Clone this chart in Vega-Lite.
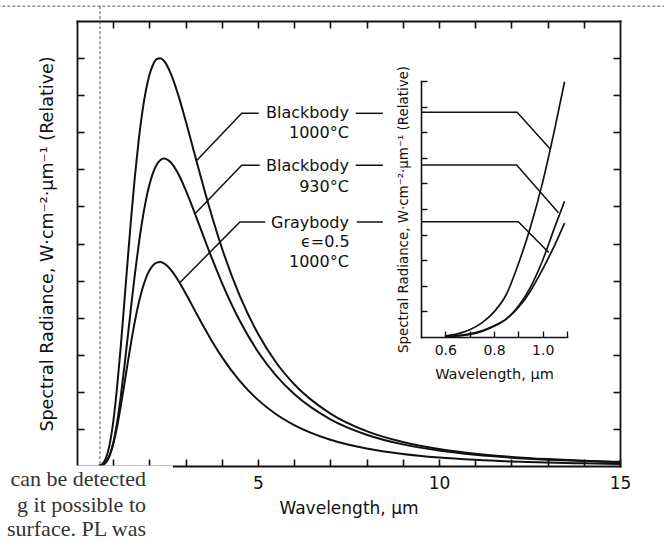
{
  "$schema": "https://vega.github.io/schema/vega-lite/v6.json",
  "width": 543,
  "height": 445,
  "autosize": {"type": "none"},
  "padding": {"left": 77, "top": 21, "right": 44, "bottom": 75},
  "background": "white",
  "config": {
    "view": {"stroke": null},
    "font": "DejaVu Sans",
    "axis": {
      "grid": false,
      "domainColor": "#111",
      "tickColor": "#111",
      "labelColor": "#111",
      "titleColor": "#111",
      "domainWidth": 1.8,
      "tickWidth": 1.6,
      "domainCap": "square",
      "titleFontWeight": "normal",
      "labelFlush": false,
      "labelOverlap": false,
      "labelFont": "DejaVu Sans",
      "titleFont": "DejaVu Sans"
    }
  },
  "datasets": {
    "main": [
      {"wl": 0.6, "bb1000": 0.008, "bb930": 0.003, "gray": 0.004},
      {"wl": 0.7, "bb1000": 0.056, "bb930": 0.022, "gray": 0.028},
      {"wl": 0.8, "bb1000": 0.214, "bb930": 0.094, "gray": 0.107},
      {"wl": 0.9, "bb1000": 0.570, "bb930": 0.275, "gray": 0.285},
      {"wl": 1.0, "bb1000": 1.182, "bb930": 0.613, "gray": 0.591},
      {"wl": 1.1, "bb1000": 2.050, "bb930": 1.128, "gray": 1.025},
      {"wl": 1.2, "bb1000": 3.124, "bb930": 1.806, "gray": 1.562},
      {"wl": 1.3, "bb1000": 4.320, "bb930": 2.605, "gray": 2.160},
      {"wl": 1.4, "bb1000": 5.549, "bb930": 3.470, "gray": 2.775},
      {"wl": 1.5, "bb1000": 6.736, "bb930": 4.345, "gray": 3.368},
      {"wl": 1.6, "bb1000": 7.814, "bb930": 5.180, "gray": 3.907},
      {"wl": 1.7, "bb1000": 8.749, "bb930": 5.939, "gray": 4.375},
      {"wl": 1.8, "bb1000": 9.515, "bb930": 6.600, "gray": 4.758},
      {"wl": 1.9, "bb1000": 10.112, "bb930": 7.149, "gray": 5.056},
      {"wl": 2.0, "bb1000": 10.544, "bb930": 7.582, "gray": 5.272},
      {"wl": 2.1, "bb1000": 10.820, "bb930": 7.903, "gray": 5.410},
      {"wl": 2.2, "bb1000": 10.969, "bb930": 8.123, "gray": 5.485},
      {"wl": 2.3, "bb1000": 10.995, "bb930": 8.248, "gray": 5.498},
      {"wl": 2.4, "bb1000": 10.927, "bb930": 8.290, "gray": 5.464},
      {"wl": 2.6, "bb1000": 10.561, "bb930": 8.177, "gray": 5.281},
      {"wl": 2.8, "bb1000": 9.994, "bb930": 7.873, "gray": 4.997},
      {"wl": 3.0, "bb1000": 9.315, "bb930": 7.447, "gray": 4.658},
      {"wl": 3.25, "bb1000": 8.407, "bb930": 6.828, "gray": 4.204},
      {"wl": 3.5, "bb1000": 7.508, "bb930": 6.179, "gray": 3.754},
      {"wl": 3.75, "bb1000": 6.661, "bb930": 5.543, "gray": 3.331},
      {"wl": 4.0, "bb1000": 5.886, "bb930": 4.947, "gray": 2.943},
      {"wl": 4.5, "bb1000": 4.578, "bb930": 3.908, "gray": 2.289},
      {"wl": 5.0, "bb1000": 3.565, "bb930": 3.081, "gray": 1.783},
      {"wl": 5.5, "bb1000": 2.792, "bb930": 2.437, "gray": 1.396},
      {"wl": 6.0, "bb1000": 2.206, "bb930": 1.940, "gray": 1.103},
      {"wl": 7.0, "bb1000": 1.414, "bb930": 1.259, "gray": 0.707},
      {"wl": 8.0, "bb1000": 0.939, "bb930": 0.844, "gray": 0.470},
      {"wl": 9.0, "bb1000": 0.645, "bb930": 0.583, "gray": 0.323},
      {"wl": 10.0, "bb1000": 0.456, "bb930": 0.415, "gray": 0.228},
      {"wl": 11.0, "bb1000": 0.331, "bb930": 0.302, "gray": 0.166},
      {"wl": 12.0, "bb1000": 0.246, "bb930": 0.225, "gray": 0.123},
      {"wl": 13.0, "bb1000": 0.186, "bb930": 0.171, "gray": 0.093},
      {"wl": 14.0, "bb1000": 0.143, "bb930": 0.132, "gray": 0.072},
      {"wl": 15.0, "bb1000": 0.112, "bb930": 0.103, "gray": 0.056}
    ],
    "inset": [
      {"wl": 0.6, "bb1000": 0.04, "bb930": 0.01, "gray": 0.02},
      {"wl": 0.65, "bb1000": 0.12, "bb930": 0.04, "gray": 0.05},
      {"wl": 0.7, "bb1000": 0.28, "bb930": 0.10, "gray": 0.12},
      {"wl": 0.75, "bb1000": 0.55, "bb930": 0.22, "gray": 0.24},
      {"wl": 0.8, "bb1000": 0.98, "bb930": 0.42, "gray": 0.44},
      {"wl": 0.85, "bb1000": 1.65, "bb930": 0.70, "gray": 0.70},
      {"wl": 0.9, "bb1000": 2.85, "bb930": 1.20, "gray": 1.15},
      {"wl": 0.95, "bb1000": 4.30, "bb930": 1.95, "gray": 1.80},
      {"wl": 1.0, "bb1000": 6.05, "bb930": 3.00, "gray": 2.65},
      {"wl": 1.05, "bb1000": 8.15, "bb930": 4.30, "gray": 3.60},
      {"wl": 1.09, "bb1000": 9.97, "bb930": 5.30, "gray": 4.45}
    ],
    "leaders": [
      {"id": "a", "o": 1, "x": 3.3, "y": 8.23},
      {"id": "a", "o": 2, "x": 4.55, "y": 9.51},
      {"id": "a", "o": 3, "x": 5.02, "y": 9.51},
      {"id": "b", "o": 1, "x": 7.7, "y": 9.51},
      {"id": "b", "o": 2, "x": 8.45, "y": 9.51},
      {"id": "c", "o": 1, "x": 3.26, "y": 6.8},
      {"id": "c", "o": 2, "x": 4.55, "y": 8.11},
      {"id": "c", "o": 3, "x": 5.05, "y": 8.11},
      {"id": "d", "o": 1, "x": 7.7, "y": 8.11},
      {"id": "d", "o": 2, "x": 8.45, "y": 8.11},
      {"id": "e", "o": 1, "x": 2.845, "y": 4.95},
      {"id": "e", "o": 2, "x": 4.5, "y": 6.58},
      {"id": "e", "o": 3, "x": 5.2, "y": 6.58},
      {"id": "f", "o": 1, "x": 7.73, "y": 6.58},
      {"id": "f", "o": 2, "x": 8.45, "y": 6.58}
    ],
    "insetLeaders": [
      {"id": "g", "o": 1, "x": 0.5, "y": 8.78},
      {"id": "g", "o": 2, "x": 0.895, "y": 8.78},
      {"id": "g", "o": 3, "x": 1.03, "y": 7.35},
      {"id": "h", "o": 1, "x": 0.5, "y": 6.72},
      {"id": "h", "o": 2, "x": 0.893, "y": 6.72},
      {"id": "h", "o": 3, "x": 1.065, "y": 4.85},
      {"id": "i", "o": 1, "x": 0.5, "y": 4.5},
      {"id": "i", "o": 2, "x": 0.9, "y": 4.5},
      {"id": "i", "o": 3, "x": 1.025, "y": 3.3}
    ],
    "labels": [
      {"x": 7.51, "y": 9.515, "t": "Blackbody"},
      {"x": 7.51, "y": 8.98, "t": "1000°C"},
      {"x": 7.51, "y": 8.09, "t": "Blackbody"},
      {"x": 7.51, "y": 7.53, "t": "930°C"},
      {"x": 7.51, "y": 6.56, "t": "Graybody"},
      {"x": 7.53, "y": 6.05, "t": "ϵ=0.5"},
      {"x": 7.51, "y": 5.51, "t": "1000°C"}
    ],
    "dots": [
      {"x1": -2.2, "x2": 16.3, "y1": 12.4, "y2": 12.4},
      {"x1": 0.635, "x2": 0.635, "y1": 12.4, "y2": 0}
    ],
    "box": [
      {"x1": -2.2, "x2": 2.65, "y1": 0.015, "y2": -2.1}
    ],
    "page": [
      {"x": 1.906, "y": -0.35, "t": "can be detected"},
      {"x": 1.906, "y": -1.05, "t": "g it possible to"},
      {"x": 1.906, "y": -1.7, "t": "surface. PL was"}
    ]
  },
  "layer": [
    {
      "data": {"name": "main"},
      "transform": [{"fold": ["bb1000", "bb930", "gray"], "as": ["s", "v"]}],
      "mark": {"type": "line", "interpolate": "monotone", "color": "#111", "strokeWidth": 2},
      "encoding": {
        "x": {
          "field": "wl", "type": "quantitative",
          "scale": {"domain": [0, 15], "nice": false, "zero": false},
          "axis": {
            "orient": "bottom",
            "values": [1, 2, 3, 4, 5, 6, 7, 8, 9, 10, 11, 12, 13, 14, 15],
            "tickSize": -7,
            "labelExpr": "datum.value % 5 == 0 ? datum.label : ''",
            "labelFontSize": 17,
            "labelPadding": 16,
            "title": "Wavelength, μm",
            "titleFontSize": 17,
            "titlePadding": 9
          }
        },
        "y": {
          "field": "v", "type": "quantitative",
          "scale": {"domain": [0, 12], "nice": false},
          "axis": {
            "orient": "left",
            "values": [1, 2, 3, 4, 5, 6, 7, 8, 9, 10, 11],
            "tickSize": -7,
            "labels": false,
            "title": "Spectral Radiance, W·cm⁻²·μm⁻¹ (Relative)",
            "titleFontSize": 17.5,
            "titlePadding": 20
          }
        },
        "detail": {"field": "s"}
      }
    },
    {
      "data": {"name": "leaders"},
      "mark": {"type": "line", "color": "#111", "strokeWidth": 1.5},
      "encoding": {
        "x": {
          "field": "x", "type": "quantitative",
          "scale": {"domain": [0, 15], "nice": false, "zero": false},
          "axis": {
            "orient": "top",
            "values": [1, 2, 3, 4, 5, 6, 7, 8, 9, 10, 11, 12, 13, 14],
            "tickSize": -7,
            "labels": false,
            "title": null
          }
        },
        "y": {
          "field": "y", "type": "quantitative",
          "scale": {"domain": [0, 12], "nice": false},
          "axis": {
            "orient": "right",
            "values": [1, 2, 3, 4, 5, 6, 7, 8, 9, 10, 11],
            "tickSize": -7,
            "labels": false,
            "title": null
          }
        },
        "detail": {"field": "id"},
        "order": {"field": "o"}
      }
    },
    {
      "data": {"name": "inset"},
      "transform": [{"fold": ["bb1000", "bb930", "gray"], "as": ["s", "v"]}],
      "mark": {"type": "line", "interpolate": "monotone", "color": "#111", "strokeWidth": 1.7},
      "encoding": {
        "x": {
          "field": "wl", "type": "quantitative",
          "scale": {"domain": [0.5, 1.1], "range": [344, 490], "nice": false, "zero": false},
          "axis": {
            "orient": "bottom",
            "offset": -129,
            "values": [0.6, 0.7, 0.8, 0.9, 1.0, 1.1],
            "tickSize": -6,
            "domainWidth": 1.6,
            "tickWidth": 1.4,
            "labelExpr": "(datum.value == 0.6 || datum.value == 0.8 || datum.value == 1) ? format(datum.value, '.1f') : ''",
            "labelFontSize": 14,
            "labelPadding": 12,
            "title": "Wavelength, μm",
            "titleFontSize": 14.5,
            "titlePadding": 10
          }
        },
        "y": {
          "field": "v", "type": "quantitative",
          "scale": {"domain": [0, 10], "range": [316, 60], "nice": false},
          "axis": {
            "orient": "left",
            "offset": -344,
            "values": [1, 2, 3, 4, 5, 6, 7, 8, 9, 10],
            "tickSize": -6,
            "domainWidth": 1.6,
            "tickWidth": 1.4,
            "labels": false,
            "title": "Spectral Radiance, W·cm⁻²·μm⁻¹ (Relative)",
            "titleFontSize": 13.4,
            "titlePadding": 10
          }
        },
        "detail": {"field": "s"}
      }
    },
    {
      "data": {"name": "insetLeaders"},
      "mark": {"type": "line", "color": "#111", "strokeWidth": 1.5},
      "encoding": {
        "x": {"field": "x", "type": "quantitative", "scale": {"domain": [0.5, 1.1], "range": [344, 490], "nice": false, "zero": false}, "axis": null},
        "y": {"field": "y", "type": "quantitative", "scale": {"domain": [0, 10], "range": [316, 60], "nice": false}, "axis": null},
        "detail": {"field": "id"},
        "order": {"field": "o"}
      }
    },
    {
      "data": {"name": "labels"},
      "mark": {"type": "text", "align": "right", "baseline": "middle", "fontSize": 16, "color": "#111", "font": "DejaVu Sans"},
      "encoding": {
        "x": {"field": "x", "type": "quantitative", "scale": {"domain": [0, 15], "nice": false, "zero": false}, "axis": null},
        "y": {"field": "y", "type": "quantitative", "scale": {"domain": [0, 12], "nice": false}, "axis": null},
        "text": {"field": "t"}
      }
    },
    {
      "data": {"name": "dots"},
      "mark": {"type": "rule", "color": "#555", "strokeDash": [3, 2], "strokeWidth": 1},
      "encoding": {
        "x": {"field": "x1", "type": "quantitative", "scale": {"domain": [0, 15], "nice": false, "zero": false}, "axis": null},
        "x2": {"field": "x2"},
        "y": {"field": "y1", "type": "quantitative", "scale": {"domain": [0, 12], "nice": false}, "axis": null},
        "y2": {"field": "y2"}
      }
    },
    {
      "data": {"name": "box"},
      "mark": {"type": "rect", "color": "white"},
      "encoding": {
        "x": {"field": "x1", "type": "quantitative", "scale": {"domain": [0, 15], "nice": false, "zero": false}, "axis": null},
        "x2": {"field": "x2"},
        "y": {"field": "y1", "type": "quantitative", "scale": {"domain": [0, 12], "nice": false}, "axis": null},
        "y2": {"field": "y2"}
      }
    },
    {
      "data": {"name": "page"},
      "mark": {"type": "text", "align": "right", "baseline": "middle", "fontSize": 22, "color": "#333", "font": "Liberation Serif"},
      "encoding": {
        "x": {"field": "x", "type": "quantitative", "scale": {"domain": [0, 15], "nice": false, "zero": false}, "axis": null},
        "y": {"field": "y", "type": "quantitative", "scale": {"domain": [0, 12], "nice": false}, "axis": null},
        "text": {"field": "t"}
      }
    }
  ],
  "resolve": {"scale": {"x": "independent", "y": "independent"}, "axis": {"x": "independent", "y": "independent"}}
}
